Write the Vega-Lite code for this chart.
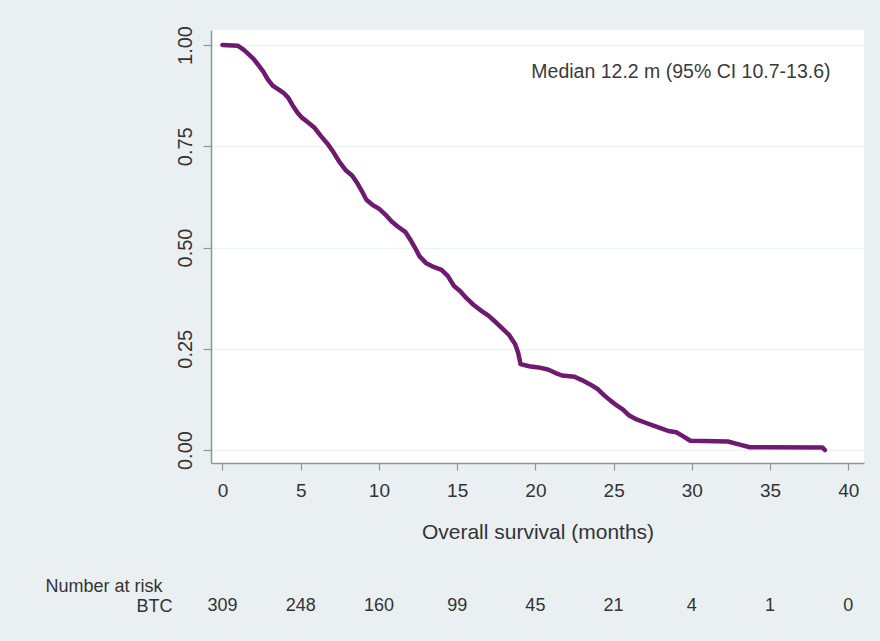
{
  "$schema": "https://vega.github.io/schema/vega-lite/v6.json",
  "autosize": {"type": "none"},
  "padding": {"left": 211, "top": 30, "right": 669, "bottom": 611},
  "background": "#eaf0f2",
  "config": {"font": "Liberation Sans", "view": {"stroke": null}},
  "datasets": {
    "km": [
      {"months": 0, "survival": 1.0},
      {"months": 1.0, "survival": 0.998},
      {"months": 1.3, "survival": 0.99},
      {"months": 1.6, "survival": 0.98},
      {"months": 2.0, "survival": 0.965},
      {"months": 2.3, "survival": 0.95},
      {"months": 2.6, "survival": 0.935},
      {"months": 2.9, "survival": 0.915},
      {"months": 3.2, "survival": 0.9},
      {"months": 3.6, "survival": 0.89},
      {"months": 3.9, "survival": 0.882},
      {"months": 4.2, "survival": 0.87},
      {"months": 4.5, "survival": 0.85},
      {"months": 4.8, "survival": 0.833},
      {"months": 5.1, "survival": 0.82},
      {"months": 5.5, "survival": 0.808},
      {"months": 5.9, "survival": 0.795},
      {"months": 6.3, "survival": 0.775},
      {"months": 6.7, "survival": 0.757},
      {"months": 7.1, "survival": 0.735},
      {"months": 7.5, "survival": 0.71},
      {"months": 7.9, "survival": 0.69},
      {"months": 8.3, "survival": 0.677},
      {"months": 8.6, "survival": 0.66},
      {"months": 8.9, "survival": 0.64},
      {"months": 9.2, "survival": 0.618},
      {"months": 9.6, "survival": 0.605},
      {"months": 10.0, "survival": 0.596},
      {"months": 10.4, "survival": 0.582},
      {"months": 10.8, "survival": 0.565},
      {"months": 11.2, "survival": 0.552},
      {"months": 11.7, "survival": 0.538},
      {"months": 12.0, "survival": 0.52},
      {"months": 12.3, "survival": 0.5},
      {"months": 12.6, "survival": 0.478},
      {"months": 13.0, "survival": 0.462},
      {"months": 13.5, "survival": 0.452},
      {"months": 14.0, "survival": 0.445},
      {"months": 14.4, "survival": 0.43},
      {"months": 14.8, "survival": 0.405},
      {"months": 15.2, "survival": 0.392},
      {"months": 15.6, "survival": 0.375},
      {"months": 16.0, "survival": 0.36},
      {"months": 16.5, "survival": 0.345},
      {"months": 17.0, "survival": 0.332},
      {"months": 17.4, "survival": 0.318},
      {"months": 17.9, "survival": 0.3},
      {"months": 18.3, "survival": 0.285},
      {"months": 18.7, "survival": 0.262},
      {"months": 18.9, "survival": 0.24},
      {"months": 19.05, "survival": 0.212},
      {"months": 19.6, "survival": 0.207},
      {"months": 20.2, "survival": 0.204},
      {"months": 20.8, "survival": 0.199},
      {"months": 21.3, "survival": 0.19},
      {"months": 21.7, "survival": 0.184},
      {"months": 22.5, "survival": 0.181},
      {"months": 23.0, "survival": 0.172},
      {"months": 23.5, "survival": 0.162},
      {"months": 24.0, "survival": 0.15},
      {"months": 24.4, "survival": 0.135},
      {"months": 24.8, "survival": 0.122},
      {"months": 25.2, "survival": 0.11},
      {"months": 25.6, "survival": 0.1},
      {"months": 26.0, "survival": 0.085},
      {"months": 26.5, "survival": 0.075},
      {"months": 27.0, "survival": 0.068},
      {"months": 27.5, "survival": 0.061},
      {"months": 28.0, "survival": 0.054},
      {"months": 28.5, "survival": 0.047},
      {"months": 29.0, "survival": 0.044},
      {"months": 29.4, "survival": 0.035},
      {"months": 29.9, "survival": 0.023},
      {"months": 32.3, "survival": 0.021},
      {"months": 33.0, "survival": 0.014},
      {"months": 33.7, "survival": 0.007},
      {"months": 38.35, "survival": 0.006},
      {"months": 38.5, "survival": 0.0}
    ],
    "note": [
      {"months": 29.3, "survival": 0.933, "label": "Median 12.2 m (95% CI 10.7-13.6)"}
    ],
    "risk": [
      {"group": "BTC", "months": 0, "n": 309},
      {"group": "BTC", "months": 5, "n": 248},
      {"group": "BTC", "months": 10, "n": 160},
      {"group": "BTC", "months": 15, "n": 99},
      {"group": "BTC", "months": 20, "n": 45},
      {"group": "BTC", "months": 25, "n": 21},
      {"group": "BTC", "months": 30, "n": 4},
      {"group": "BTC", "months": 35, "n": 1},
      {"group": "BTC", "months": 40, "n": 0}
    ]
  },
  "spacing": 133,
  "bounds": "flush",
  "resolve": {"scale": {"x": "independent", "y": "independent"}},
  "vconcat": [
    {
      "width": 653,
      "height": 433,
      "view": {"fill": "white", "stroke": null},
      "layer": [
        {
          "data": {"name": "km"},
          "mark": {"type": "line", "interpolate": "linear", "color": "#6e1a6e", "strokeWidth": 4.5, "strokeJoin": "round", "strokeCap": "round"},
          "encoding": {
            "x": {
              "field": "months", "type": "quantitative",
              "scale": {"domain": [-0.73, 41.0], "nice": false, "zero": false},
              "axis": {
                "values": [0, 5, 10, 15, 20, 25, 30, 35, 40],
                "title": "Overall survival (months)",
                "grid": false,
                "domainColor": "#8c979b", "domainWidth": 1.5,
                "tickColor": "#8c979b", "tickSize": 7, "tickWidth": 1.2,
                "labelFontSize": 19, "labelColor": "#333333", "labelPadding": 11,
                "titleFontSize": 21, "titleFontWeight": "normal", "titleColor": "#333333", "titlePadding": 21
              }
            },
            "y": {
              "field": "survival", "type": "quantitative",
              "scale": {"domain": [-0.032, 1.037], "nice": false, "zero": false},
              "axis": {
                "values": [0, 0.25, 0.5, 0.75, 1],
                "format": ".2f",
                "title": null,
                "grid": true, "gridColor": "#edf2f3", "gridWidth": 1.5,
                "domainColor": "#8c979b", "domainWidth": 1.5,
                "tickColor": "#8c979b", "tickSize": 8, "tickWidth": 1.2,
                "labelAngle": -90, "labelAlign": "center", "labelBaseline": "alphabetic",
                "labelFontSize": 20, "labelColor": "#333333", "labelPadding": 12
              }
            }
          }
        },
        {
          "data": {"name": "note"},
          "mark": {"type": "text", "fontSize": 19.5, "color": "#3a3a3a", "align": "center", "baseline": "middle"},
          "encoding": {
            "x": {"field": "months", "type": "quantitative"},
            "y": {"field": "survival", "type": "quantitative"},
            "text": {"field": "label", "type": "nominal"}
          }
        }
      ]
    },
    {
      "width": 653,
      "height": 20,
      "data": {"name": "risk"},
      "view": {"stroke": null},
      "mark": {"type": "text", "fontSize": 18, "color": "#333333", "align": "center", "baseline": "middle"},
      "encoding": {
        "x": {
          "field": "months", "type": "quantitative",
          "scale": {"domain": [-0.73, 41.0], "nice": false, "zero": false},
          "axis": null
        },
        "y": {
          "field": "group", "type": "nominal",
          "axis": {
            "title": "Number at risk",
            "titleAngle": 0, "titleAlign": "left", "titleBaseline": "alphabetic",
            "titleX": -166, "titleY": -5,
            "titleFontSize": 18, "titleFontWeight": "normal", "titleColor": "#333333",
            "domain": false, "ticks": false, "tickSize": 0,
            "labelPadding": 39, "labelFontSize": 18, "labelColor": "#333333"
          }
        },
        "text": {"field": "n", "type": "quantitative"}
      }
    }
  ]
}
